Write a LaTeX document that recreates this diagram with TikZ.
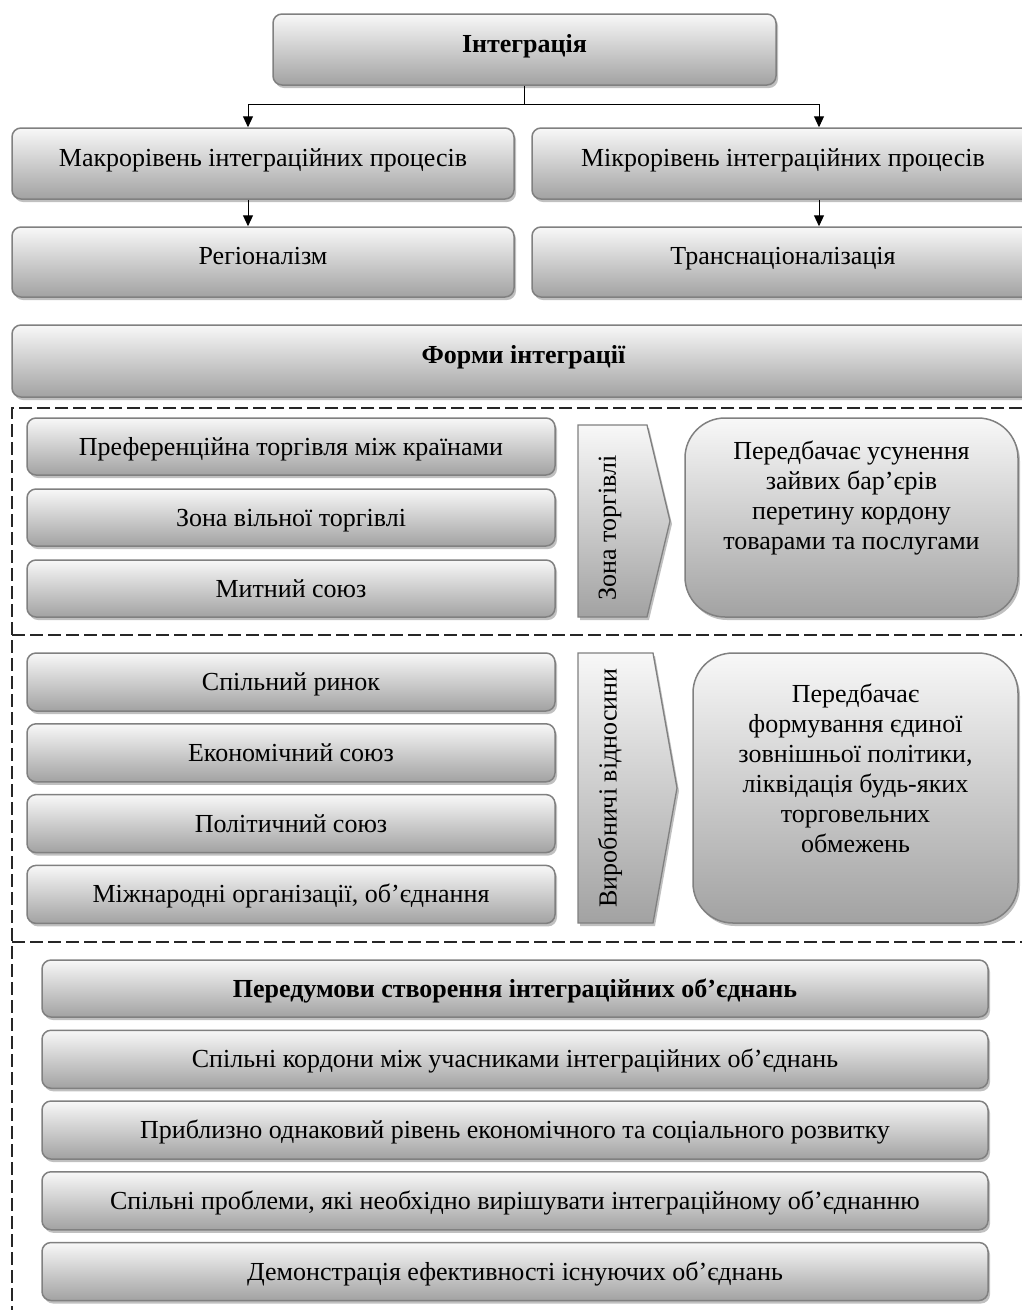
\documentclass[tikz,border=0pt]{standalone}
\usepackage{fontspec}
\setmainfont{Liberation Serif}
\usetikzlibrary{positioning,shadows,arrows.meta}

\definecolor{ramka}{HTML}{808080}
\definecolor{verkh}{HTML}{F8F8F8}
\definecolor{niz}{HTML}{A2A2A2}

\tikzset{
  tekst/.style={font=\fontsize{26}{30}\selectfont},
  tekstb/.style={font=\fontsize{26}{30}\selectfont\bfseries},
  tin/.style={drop shadow={shadow xshift=2pt, shadow yshift=-3pt, fill=black!45, opacity=.55}},
  blok/.style={tekst, draw=ramka, line width=1.5pt, rounded corners=9pt,
    top color=verkh, bottom color=niz, tin, inner sep=0pt, text height=17pt, text depth=0pt},
  vblok/.style={blok, text depth=12pt},
  opys/.style={blok, rounded corners=40pt},
  shevron/.style={draw=ramka, line width=1.3pt, top color=verkh, bottom color=niz, tin},
  punktyr/.style={line width=1.4pt, black!85, dash pattern=on 13pt off 5pt},
  strilka/.style={line width=1pt, -{Triangle[width=10pt,length=11pt]}}
}

\begin{document}
\begin{tikzpicture}[x=1pt, y=-1pt]
  \useasboundingbox (0,0) rectangle (1022,1310);

  % верхній рівень
  \node[vblok, tekstb, minimum width=503pt, minimum height=71pt] (intgr) at (524.5,49.5) {Інтеграція};
  \node[vblok, minimum width=502pt, minimum height=71pt] (makro) at (263,163.5) {Макрорівень інтеграційних процесів};
  \node[vblok, minimum width=502pt, minimum height=71pt] (mikro) at (783,163.5) {Мікрорівень інтеграційних процесів};
  \node[vblok, minimum width=502pt, minimum height=70pt] (region) at (263,262) {Регіоналізм};
  \node[vblok, minimum width=502pt, minimum height=70pt] (transn) at (783,262) {Транснаціоналізація};

  % стрілки
  \draw[strilka] (intgr.south) -- ++(0,19) -| ([xshift=-15pt]makro.north);
  \draw[strilka] (intgr.south) -- ++(0,19) -| ([xshift=36pt]mikro.north);
  \draw[strilka] ([xshift=-15pt]makro.south) -- ([xshift=-15pt]region.north);
  \draw[strilka] ([xshift=36pt]mikro.south) -- ([xshift=36pt]transn.north);

  \node[vblok, tekstb, minimum width=1023pt, minimum height=72pt] (formy) at (523.5,361) {Форми інтеграції};

  % пунктирні межі
  \draw[punktyr] (1040,408) -- (12,408) -- (12,1320);
  \draw[punktyr] (12,635) -- (1040,635);
  \draw[punktyr] (12,942) -- (1040,942);

  % зона торгівлі
  \foreach \t [count=\i] in {Преференційна торгівля між країнами, Зона вільної торгівлі, Митний союз}
    \node[blok, minimum width=528pt, minimum height=57pt] (torg\i) at (291,{446.5+71*(\i-1)}) {\t};
  \draw[shevron] (578,425) -- (647,425) -- (670,521) -- (647,617) -- (578,617) -- cycle;
  \node[tekst, rotate=90] (zona) at (610,528) {Зона торгівлі};
  \node[opys, minimum width=333pt, minimum height=199pt] (opys1) at (851.5,517.5) {};
  \node[tekst, align=center] (opys1t) at (851.5,498) {Передбачає усунення\\зайвих бар’єрів\\перетину кордону\\товарами та послугами};

  % виробничі відносини
  \foreach \t [count=\i] in {Спільний ринок, Економічний союз, Політичний союз, {Міжнародні організації, об’єднання}}
    \node[blok, minimum width=528pt, minimum height=58pt] (vyrob\i) at (291,{682+70.8*(\i-1)}) {\t};
  \draw[shevron] (578,653) -- (653,653) -- (677,788) -- (653,923) -- (578,923) -- cycle;
  \node[tekst, rotate=90] (vidn) at (610,788) {Виробничі відносини};
  \node[opys, minimum width=325pt, minimum height=270pt] (opys2) at (855.5,788) {};
  \node[tekst, align=center] (opys2t) at (855.5,768) {Передбачає\\формування єдиної\\зовнішньої політики,\\ліквідація будь-яких\\торговельних\\обмежень};

  % передумови
  \node[blok, tekstb, minimum width=946pt, minimum height=57pt] (peredum) at (515,988.5) {Передумови створення інтеграційних об’єднань};
  \foreach \t [count=\i] in {Спільні кордони між учасниками інтеграційних об’єднань,
      Приблизно однаковий рівень економічного та соціального розвитку,
      {Спільні проблеми, які необхідно вирішувати інтеграційному об’єднанню},
      Демонстрація ефективності існуючих об’єднань}
    \node[blok, minimum width=946pt, minimum height=58pt] (umova\i) at (515,{988.5+70.75*\i}) {\t};
\end{tikzpicture}
\end{document}
